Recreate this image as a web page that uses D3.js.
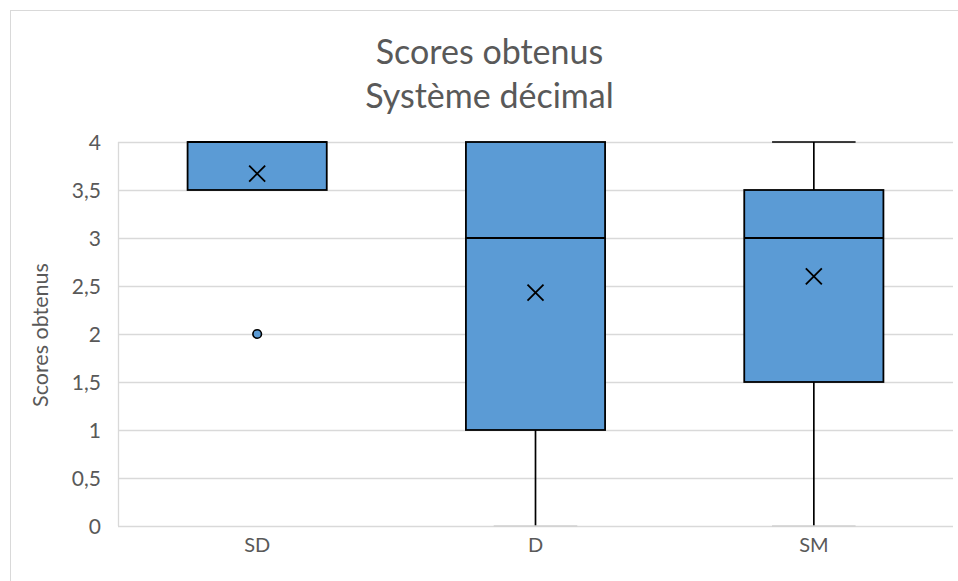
<!DOCTYPE html>
<html>
<head>
<meta charset="utf-8">
<script src="https://cdn.jsdelivr.net/npm/d3@7"></script>
<style>
  body { margin: 0; background: #fff; }
  svg text { font-family: Lato, "Open Sans", sans-serif; fill: #595959; }
</style>
</head>
<body>
<svg id="chart" width="958" height="581"></svg>
<script>
// values
const categories = ['SD', 'D', 'SM'];
const q1 = [3.5, 1, 1.5];
const median = [4, 3, 3];
const q3 = [4, 4, 3.5];
const whiskerLow = [3.5, 0, 0];
const whiskerHigh = [4, 4, 4];
const means = [3.67, 2.43, 2.6];
const outliers = [[2], [], []];
const yTicks = [0, 0.5, 1, 1.5, 2, 2.5, 3, 3.5, 4];

const width = 958;
const height = 581;
const margin = { top: 142, right: 5, bottom: 55, left: 118 };

const svg = d3.select('#chart');

// outer chart border
svg.append('rect')
  .attr('x', 10.5).attr('y', 10.5)
  .attr('width', width).attr('height', height)
  .attr('fill', 'none')
  .attr('stroke', '#d9d9d9');

const x = d3.scaleBand()
  .domain(categories)
  .range([margin.left, width - margin.right]);

const y = d3.scaleLinear()
  .domain([0, 4])
  .range([height - margin.bottom, margin.top]);

const fmt = d => String(d).replace('.', ',');

// gridlines
svg.append('g')
  .selectAll('line')
  .data(yTicks)
  .enter()
    .append('line')
    .attr('x1', margin.left)
    .attr('x2', width - margin.right)
    .attr('y1', d => Math.round(y(d)) + 0.5)
    .attr('y2', d => Math.round(y(d)) + 0.5)
    .attr('stroke', '#d9d9d9')
    .attr('stroke-width', 1.3);

// left axis line
svg.append('line')
  .attr('x1', margin.left + 0.5).attr('x2', margin.left + 0.5)
  .attr('y1', y(4)).attr('y2', y(0))
  .attr('stroke', '#d9d9d9')
  .attr('stroke-width', 1.3);

// y tick labels
const yAxis = svg.append('g')
  .attr('transform', `translate(${margin.left - 17},0)`)
  .call(d3.axisLeft(y).tickValues(yTicks).tickFormat(fmt).tickSize(0).tickPadding(0));
yAxis.select('.domain').remove();
yAxis.selectAll('text')
  .style('font-size', '21px')
  .attr('dy', '0.36em');

// x labels
const xAxis = svg.append('g')
  .attr('transform', `translate(0,${y(0)})`)
  .call(d3.axisBottom(x).tickSize(0).tickPadding(0));
xAxis.select('.domain').remove();
xAxis.selectAll('text')
  .style('font-size', '20px')
  .attr('dy', '1.3em');

const boxW = x.bandwidth() * 0.5;
const capW = boxW * 0.3;
const data = categories.map((c, i) => ({
  cat: c, q1: q1[i], med: median[i], q3: q3[i],
  lo: whiskerLow[i], hi: whiskerHigh[i], mean: means[i], out: outliers[i]
}));

const boxes = svg.append('g')
  .selectAll('g')
  .data(data)
  .enter()
    .append('g')
    .attr('transform', d => `translate(${x(d.cat) + x.bandwidth() / 2},0)`);

// whiskers
boxes.filter(d => d.lo < d.q1).append('line')
  .attr('x1', 0).attr('x2', 0)
  .attr('y1', d => y(d.q1)).attr('y2', d => y(d.lo))
  .attr('stroke', '#000').attr('stroke-width', 1.7);
boxes.filter(d => d.hi > d.q3).append('line')
  .attr('x1', 0).attr('x2', 0)
  .attr('y1', d => y(d.q3)).attr('y2', d => y(d.hi))
  .attr('stroke', '#000').attr('stroke-width', 1.7);
// caps (bottom cap sits on the axis and reads light grey)
boxes.filter(d => d.lo < d.q1).append('line')
  .attr('x1', -capW).attr('x2', capW)
  .attr('y1', d => y(d.lo)).attr('y2', d => y(d.lo))
  .attr('stroke', d => d.lo === 0 ? '#d0d0d0' : '#000').attr('stroke-width', 1.7);
boxes.filter(d => d.hi > d.q3).append('line')
  .attr('x1', -capW).attr('x2', capW)
  .attr('y1', d => y(d.hi)).attr('y2', d => y(d.hi))
  .attr('stroke', '#000').attr('stroke-width', 1.7);

// box
boxes.append('rect')
  .attr('x', -boxW / 2)
  .attr('width', boxW)
  .attr('y', d => y(d.q3))
  .attr('height', d => y(d.q1) - y(d.q3))
  .attr('fill', '#5b9bd5')
  .attr('stroke', '#000')
  .attr('stroke-width', 1.8);

// median
boxes.append('line')
  .attr('x1', -boxW / 2).attr('x2', boxW / 2)
  .attr('y1', d => y(d.med)).attr('y2', d => y(d.med))
  .attr('stroke', '#000').attr('stroke-width', 1.8);

// mean marker
const m = 8;
boxes.append('path')
  .attr('d', d => `M${-m},${y(d.mean) - m}L${m},${y(d.mean) + m}M${m},${y(d.mean) - m}L${-m},${y(d.mean) + m}`)
  .attr('stroke', '#000').attr('stroke-width', 1.8).attr('fill', 'none');

// outliers
boxes.selectAll('circle')
  .data(d => d.out)
  .enter()
    .append('circle')
    .attr('cy', v => y(v))
    .attr('r', 4.3)
    .attr('fill', '#5b9bd5')
    .attr('stroke', '#000')
    .attr('stroke-width', 1.6);

// titles
svg.append('text')
  .attr('x', 489.5).attr('y', 64)
  .attr('text-anchor', 'middle')
  .attr('font-size', 34)
  .text('Scores obtenus');
svg.append('text')
  .attr('x', 489.5).attr('y', 108)
  .attr('text-anchor', 'middle')
  .attr('font-size', 34)
  .text('Système décimal');

svg.append('text')
  .attr('transform', `translate(48,${(y(0) + y(4)) / 2 + 1}) rotate(-90)`)
  .attr('text-anchor', 'middle')
  .attr('font-size', 21.5)
  .text('Scores obtenus');
</script>
</body>
</html>
